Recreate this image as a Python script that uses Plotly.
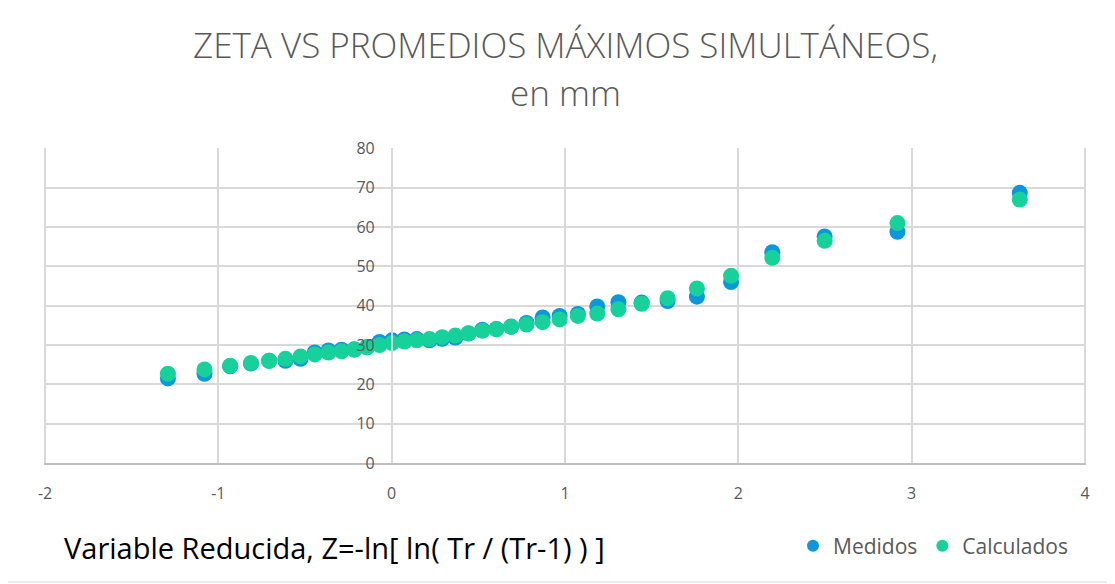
import plotly.graph_objects as go

# Reduced variable Z (x values)
z_values = [-1.291, -1.080, -0.932, -0.812, -0.707, -0.613, -0.526, -0.444, -0.365,
            -0.289, -0.215, -0.142, -0.070, 0.002, 0.073, 0.145, 0.218, 0.291,
            0.367, 0.443, 0.523, 0.604, 0.689, 0.778, 0.871, 0.969, 1.074,
            1.186, 1.308, 1.442, 1.592, 1.761, 1.958, 2.196, 2.498, 2.918, 3.624]

medidos = [21.5, 22.7, 24.6, 25.3, 26.0, 26.0, 26.5, 28.1, 28.6,
           28.8, 28.9, 29.5, 30.8, 31.2, 31.4, 31.5, 31.2, 31.6,
           31.9, 32.9, 33.9, 34.1, 34.7, 35.6, 37.0, 37.4, 37.9,
           39.8, 40.9, 40.8, 41.2, 42.3, 46.0, 53.6, 57.6, 58.8, 68.7]

calculados = [22.7, 23.8, 24.7, 25.4, 26.0, 26.5, 27.1, 27.6, 28.1,
              28.4, 28.8, 29.4, 30.0, 30.5, 30.9, 31.2, 31.5, 32.0,
              32.4, 33.0, 33.6, 34.0, 34.6, 35.2, 35.8, 36.5, 37.4,
              38.0, 39.1, 40.5, 41.9, 44.4, 47.6, 52.2, 56.5, 61.0, 67.0]

x_ticks = [-2, -1, 0, 1, 2, 3, 4]
x_tick_labels = ["-2", "-1", "0", "1", "2", "3", "4"]
y_ticks = [0, 10, 20, 30, 40, 50, 60, 70, 80]

title_line1 = "ZETA VS PROMEDIOS MÁXIMOS SIMULTÁNEOS,"
title_line2 = "en mm"
x_title = "Variable Reducida, Z=-ln[ ln( Tr / (Tr-1) ) ]"

BLUE = "#0A98DA"
GREEN = "#17D19B"
GRID = "#d9d9d9"
TXT = "#595959"
FONT = "Open Sans"

fig = go.Figure()
fig.add_trace(go.Scatter(x=z_values, y=medidos, mode="markers", name="Medidos",
                         marker=dict(color=BLUE, size=16)))
fig.add_trace(go.Scatter(x=z_values, y=calculados, mode="markers", name="Calculados",
                         marker=dict(color=GREEN, size=16)))

# page has an 8px body margin; figure placed at (8, 8)
OFF = 8
W, H = 1107, 576
L, R, T, B = 36, 29, 140, 121
pw = W - L - R
ph = H - T - B

def px_x(p):
    return (p - OFF - L) / pw

def px_y(p):
    return (H - B - (p - OFF)) / ph

fig.update_layout(
    width=W, height=H,
    margin=dict(l=L, r=R, t=T, b=B, autoexpand=False),
    paper_bgcolor="white", plot_bgcolor="white",
    font=dict(family=FONT, color=TXT, size=16),
    showlegend=True,
    legend=dict(orientation="h", x=px_x(793), y=px_y(546), xanchor="left", yanchor="middle",
                font=dict(size=21, color=TXT), itemsizing="constant",
                bgcolor="rgba(0,0,0,0)", itemwidth=30),
    xaxis=dict(range=[-2.006, 4.006], tickvals=x_ticks, ticktext=x_tick_labels,
               showgrid=True, gridcolor=GRID, gridwidth=1.5,
               zeroline=False, showline=True, linecolor="#bfbfbf", linewidth=1.5,
               ticks="", ticklabelstandoff=15, tickfont=dict(size=16, color=TXT)),
    yaxis=dict(range=[0, 80.1], tickvals=y_ticks, showgrid=True, gridcolor=GRID, gridwidth=1.5,
               zeroline=False, showline=True, linecolor=GRID, linewidth=1.5,
               anchor="free", position=2.006 / 6.012, ticks="", ticklabelstandoff=13,
               tickfont=dict(size=16, color=TXT)),
    annotations=[
        dict(text=title_line1, x=0.5, y=px_y(44), xref="paper", yref="paper",
             xanchor="center", yanchor="middle", showarrow=False,
             font=dict(size=35, color=TXT, family=FONT, weight=300)),
        dict(text=title_line2, x=0.5, y=px_y(93), xref="paper", yref="paper",
             xanchor="center", yanchor="middle", showarrow=False,
             font=dict(size=35, color=TXT, family=FONT, weight=300)),
        dict(text=x_title, x=px_x(62), y=px_y(547), xref="paper", yref="paper",
             xanchor="left", yanchor="middle", showarrow=False,
             font=dict(size=29, color="#000000", family=FONT)),
    ],
    shapes=[
        dict(type="rect", xref="paper", yref="paper",
             x0=px_x(2), x1=px_x(1111), y0=px_y(582), y1=px_y(2),
             line=dict(color=GRID, width=1), fillcolor="rgba(0,0,0,0)", layer="below"),
    ],
)

fig.write_html("out.html")
